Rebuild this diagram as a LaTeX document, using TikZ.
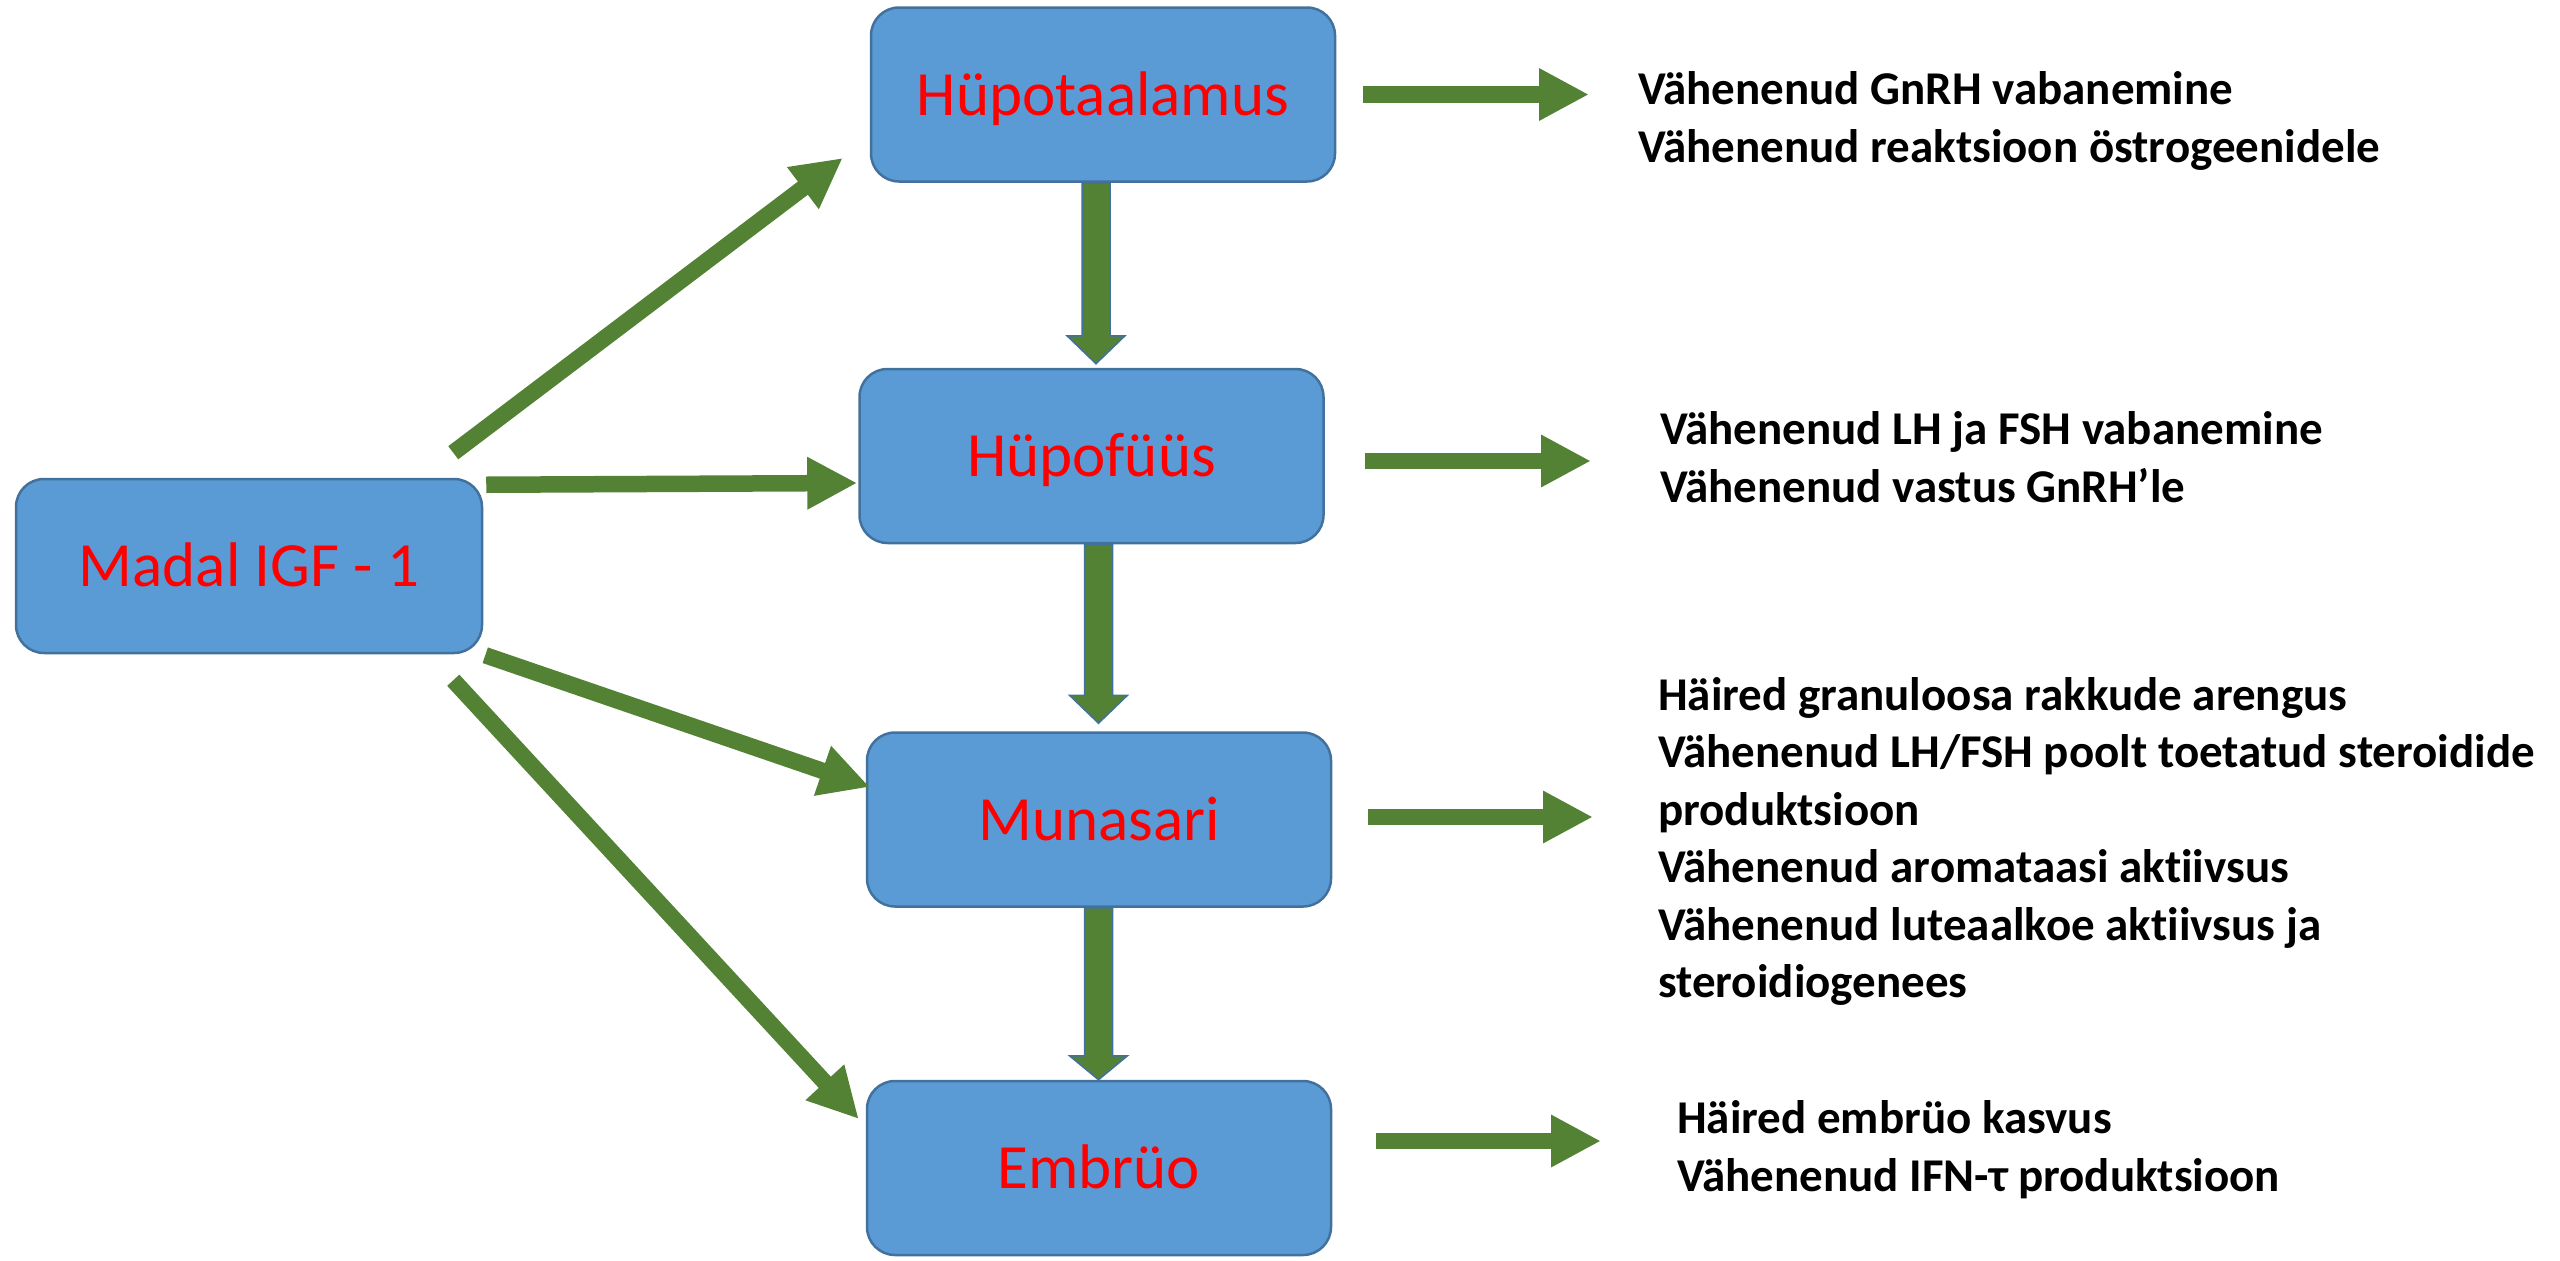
\documentclass[tikz,border=0pt]{standalone}
\usepackage{fontspec}
\setmainfont{Carlito}[Ligatures=NoCommon]
\usetikzlibrary{arrows.meta}
\definecolor{boxfill}{HTML}{5B9BD5}
\definecolor{boxline}{HTML}{41719C}
\definecolor{agreen}{HTML}{548235}
\definecolor{lred}{HTML}{FF0000}
\newcommand\vblockarrow[6]{%
 \draw[vblock] ([xshift=#3-14pt]#1.south) -- ([xshift=#4-14pt,yshift=#5+#6]#2.north)
  -- ([xshift=#4-29pt,yshift=#5+#6]#2.north) -- ([xshift=#4,yshift=#5]#2.north)
  -- ([xshift=#4+29pt,yshift=#5+#6]#2.north) -- ([xshift=#4+14pt,yshift=#5+#6]#2.north)
  -- ([xshift=#3+14pt]#1.south) -- cycle;}
\begin{document}
\begin{tikzpicture}[x=1pt,y=1pt,
 box/.style={draw=boxline, fill=boxfill, line width=2.5pt, rounded corners=28pt, inner sep=0pt,
   text=lred, font=\fontsize{63}{75}\selectfont, text height=41pt, text depth=0pt,
   minimum width=464pt, minimum height=174pt},
 garrow/.style={draw=agreen, line width=16.5pt, -{Triangle[length=50pt,width=49pt]}},
 vblock/.style={fill=agreen, draw=boxline, line width=1.5pt, line join=miter},
 note/.style={anchor=base west, align=left, inner sep=0pt,
   font=\fontsize{47}{57.5}\selectfont\bfseries}
]
\useasboundingbox (0,-1261) rectangle (2560,0);
% boxes
\node[box] (hypot) at (1103,-94.5) {Hüpotaalamus};
\node[box] (hypof) at (1091.5,-456) {Hüpofüüs};
\node[box] (muna) at (1099,-819.5) {Munasari};
\node[box] (embr) at (1099,-1168) {Embrüo};
\node[box, minimum width=466pt] (madal) at (249,-566) {Madal IGF - 1};
% vertical block arrows
\vblockarrow{hypot}{hypof}{-7pt}{4.5pt}{4pt}{28pt}
\vblockarrow{hypof}{muna}{7pt}{-0.5pt}{8pt}{28pt}
\vblockarrow{muna}{embr}{-0.5pt}{-0.5pt}{0pt}{24pt}
% diagonal arrows
\draw[garrow] ([shift={(-30,25)}]madal.north east) -- ([shift={(-27,-63.5)}]hypot.west);
\draw[garrow] ([shift={(3,-7)}]madal.north east) -- ([shift={(-1,-27)}]hypof.west);
\draw[garrow] ([shift={(2,-1)}]madal.south east) -- ([shift={(4,32.5)}]muna.west);
\draw[garrow] ([shift={(-30,-26)}]madal.south east) -- ([shift={(-7,49)}]embr.west);
% horizontal arrows
\coordinate (h1) at (1589,-94.5);
\coordinate (h2) at (1591,-461);
\coordinate (h3) at (1593,-817);
\coordinate (h4) at (1601,-1141);
\draw[garrow] ([shift={(27,0)}]hypot.east) -- (h1);
\draw[garrow] ([shift={(40.5,-5)}]hypof.east) -- (h2);
\draw[garrow] ([shift={(36,2.5)}]muna.east) -- (h3);
\draw[garrow] ([shift={(44,27)}]embr.east) -- (h4);
% texts (base anchor = baseline of last line)
\node[note] (t1) at (1638,-162) {Vähenenud GnRH vabanemine\\Vähenenud reaktsioon östrogeenidele};
\node[note] (t2) at (1660,-502) {Vähenenud LH ja FSH vabanemine\\Vähenenud vastus GnRH’le};
\node[note] (t3) at (1658,-997.5) {Häired granuloosa rakkude arengus\\Vähenenud LH/FSH poolt toetatud steroidide\\produktsioon\\Vähenenud aromataasi aktiivsus\\Vähenenud luteaalkoe aktiivsus ja\\steroidiogenees};
\node[note] (t4) at (1677,-1191) {Häired embrüo kasvus\\Vähenenud IFN-τ produktsioon};
\end{tikzpicture}
\end{document}
